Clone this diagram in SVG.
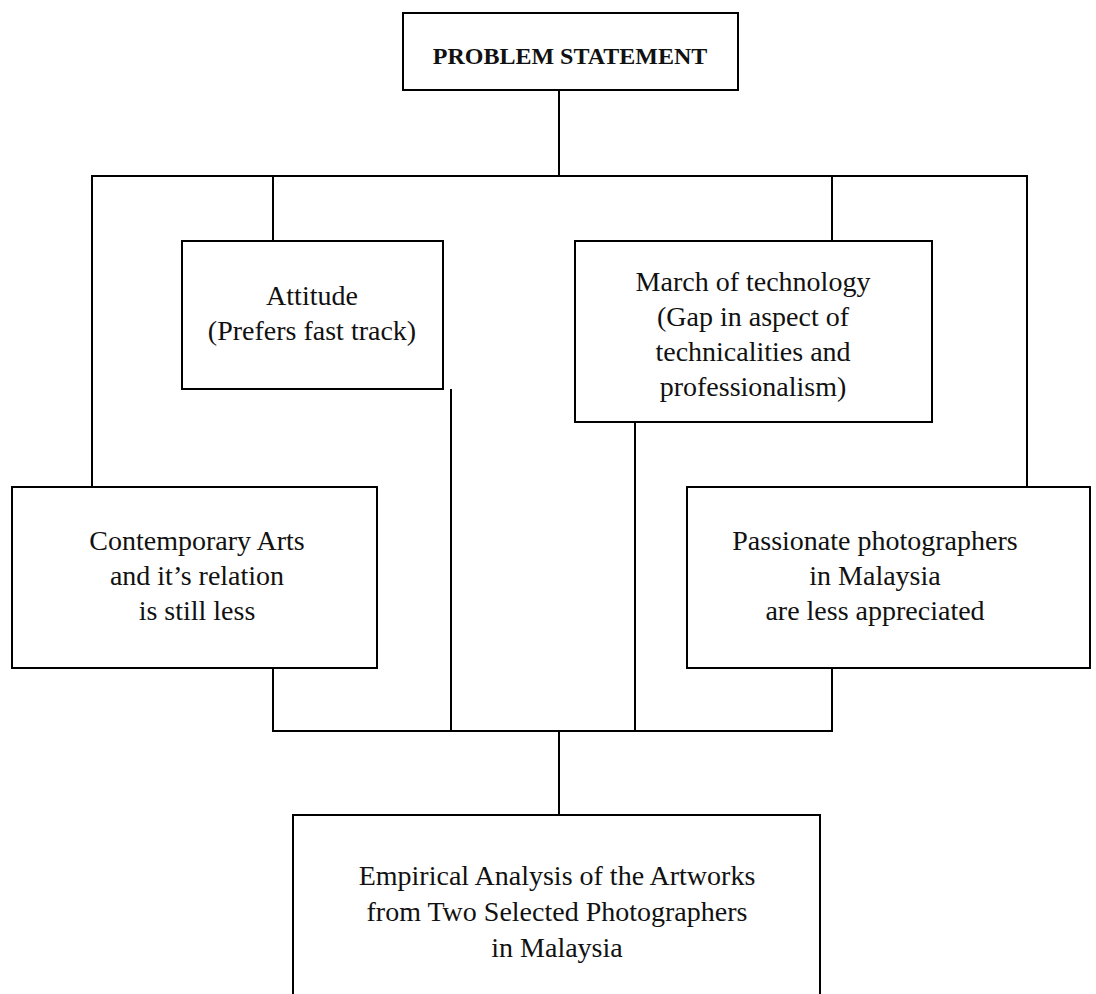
<svg xmlns="http://www.w3.org/2000/svg" width="1096" height="994" viewBox="0 0 1096 994">
<style>
.box{fill:#fff;stroke:#000;stroke-width:2}
.c{fill:none;stroke:#000;stroke-width:2}
.t{font-family:"Liberation Serif","Times New Roman",serif;font-size:28px;fill:#111;text-anchor:middle}
.b{font-family:"Liberation Serif","Times New Roman",serif;font-size:24px;font-weight:bold;fill:#111;text-anchor:middle}
</style>
<rect width="1096" height="994" fill="#fff"/>
<g id="connectors">
<path class="c" d="M559 90V176M92 487V176H1027V487M273 176V241M832 176V241"/>
<path class="c" d="M273 668V731H832V668M451 389V731M635 422V731M559 731V815"/>
</g>
<g id="problem">
<rect class="box" x="403" y="13" width="335" height="77"/>
<text class="b" x="570" y="64">PROBLEM STATEMENT</text>
</g>
<g id="attitude">
<rect class="box" x="182" y="241" width="261" height="148"/>
<text class="t" x="312" y="305">Attitude</text>
<text class="t" x="312" y="340">(Prefers fast track)</text>
</g>
<g id="march">
<rect class="box" x="575" y="241" width="357" height="181"/>
<text class="t" x="753" y="291">March of technology</text>
<text class="t" x="753" y="326">(Gap in aspect of</text>
<text class="t" x="753" y="361">technicalities and</text>
<text class="t" x="753" y="396">professionalism)</text>
</g>
<g id="contemporary">
<rect class="box" x="12" y="487" width="365" height="181"/>
<text class="t" x="197" y="550">Contemporary Arts</text>
<text class="t" x="197" y="585">and it’s relation</text>
<text class="t" x="197" y="620">is still less</text>
</g>
<g id="passionate">
<rect class="box" x="687" y="487" width="403" height="181"/>
<text class="t" x="875" y="550">Passionate photographers</text>
<text class="t" x="875" y="585">in Malaysia</text>
<text class="t" x="875" y="620">are less appreciated</text>
</g>
<g id="empirical">
<rect class="box" x="293" y="815" width="527" height="190"/>
<text class="t" x="557" y="885">Empirical Analysis of the Artworks</text>
<text class="t" x="557" y="921">from Two Selected Photographers</text>
<text class="t" x="557" y="957">in Malaysia</text>
</g>
</svg>
